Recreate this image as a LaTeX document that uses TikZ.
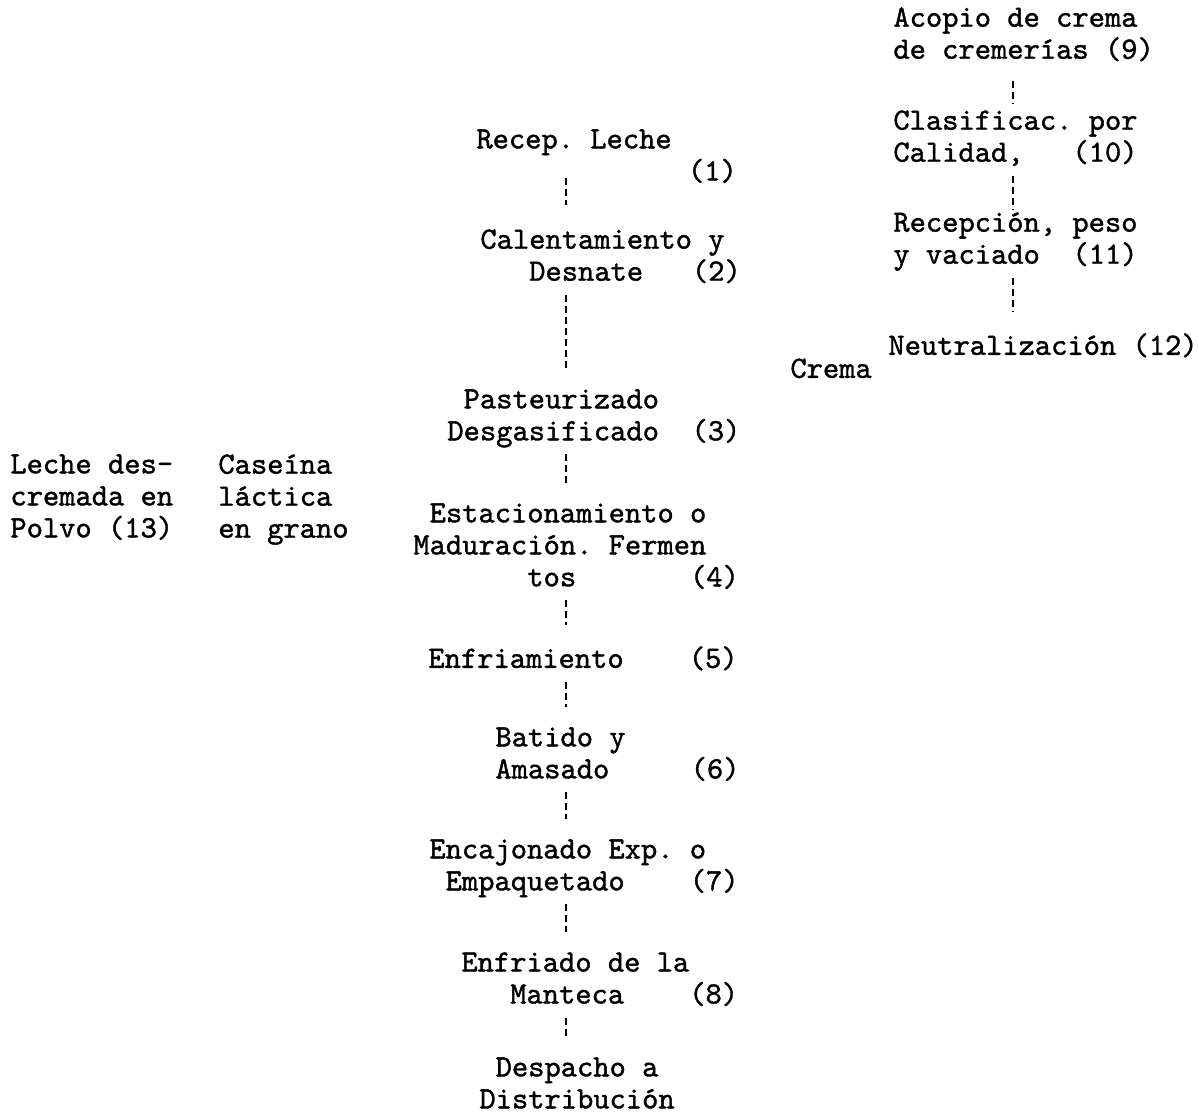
\documentclass[tikz,border=0pt]{standalone}
\usepackage{fontspec}
\newfontfamily\typer{lmmono10-regular.otf}[FakeBold=1.2]
\newcommand\typefont{\typer\fontsize{15.5}{16}\selectfont\frenchspacing}
\newcommand\sk[1]{\hspace*{#1\dimexpr0.525em\relax}}
\tikzset{
  stage/.style={anchor=north west, inner sep=0pt, align=left, font=\typefont,
    execute at begin node=\strut, execute at end node=\strut},
  link/.style={line width=1.3pt, dash pattern=on 3.5pt off 2pt, shorten <=2pt, shorten >=10pt}
}
\begin{document}
\begin{tikzpicture}[x=0.5pt, y=-0.5pt]
    \useasboundingbox (0,0) rectangle (1199,1116);
    \coordinate (axis) at (566,0);
    \coordinate (raxis) at (1013,0);

    % main line
    \node [stage] (s1) at (476,129) {Recep. Leche\\\sk{13}(1)};
    \node [stage] (s2) at (480,229) {Calentamiento y\\\sk{3}Desnate~~~(2)};
    \node [stage] (s3) at (447,389) {\sk{1}Pasteurizado\\Desgasificado~~(3)};
    \node [stage] (s4) at (413,503) {\sk{1}Estacionamiento o\\Maduración. Fermen\\\sk{7}tos~~~~~~~(4)};
    \node [stage] (s5) at (428,645) {Enfriamiento~~~~(5)};
    \node [stage] (s6) at (495,727) {Batido y\\Amasado~~~~~(6)};
    \node [stage] (s7) at (429,839) {Encajonado Exp. o\\\sk{1}Empaquetado~~~~(7)};
    \node [stage] (s8) at (461,952) {Enfriado de la\\\sk{3}Manteca~~~~(8)};
    \node [stage] (s9) at (479,1057) {\sk{1}Despacho a\\Distribución};

    % cream line
    \node [stage] (c9) at (893,7) {Acopio de crema\\de cremerías (9)};
    \node [stage] (c10) at (893,110) {Clasificac. por\\Calidad,~~~(10)};
    \node [stage] (c11) at (893,212) {Recepción, peso\\y vaciado~~(11)};
    \node [stage] (c12) at (888,332) {Neutralización (12)};
    \node [stage] (crema) at (790,355) {Crema};

    % by-products
    \node [stage] (polvo) at (10,454) {Leche des-\\cremada en\\Polvo (13)};
    \node [stage] (caseina) at (218,454) {Caseína\\láctica\\en grano};

    \draw [link, shorten <=-6pt, shorten >=12pt] (s1.south -| axis) -- (s2.north -| axis);
    \draw [link] (s2.south -| axis) -- (s3.north -| axis);
    \draw [link] (s3.south -| axis) -- (s4.north -| axis);
    \draw [link] (s4.south -| axis) -- (s5.north -| axis);
    \draw [link] (s5.south -| axis) -- (s6.north -| axis);
    \draw [link] (s6.south -| axis) -- (s7.north -| axis);
    \draw [link] (s7.south -| axis) -- (s8.north -| axis);
    \draw [link] (s8.south -| axis) -- (s9.north -| axis);

    \draw [link, shorten <=6pt, shorten >=3pt] (c9.south -| raxis) -- (c10.north -| raxis);
    \draw [link, shorten >=1pt] (c10.south -| raxis) -- (c11.north -| raxis);
    \draw [link] (c11.south -| raxis) -- (c12.north -| raxis);
\end{tikzpicture}
\end{document}
